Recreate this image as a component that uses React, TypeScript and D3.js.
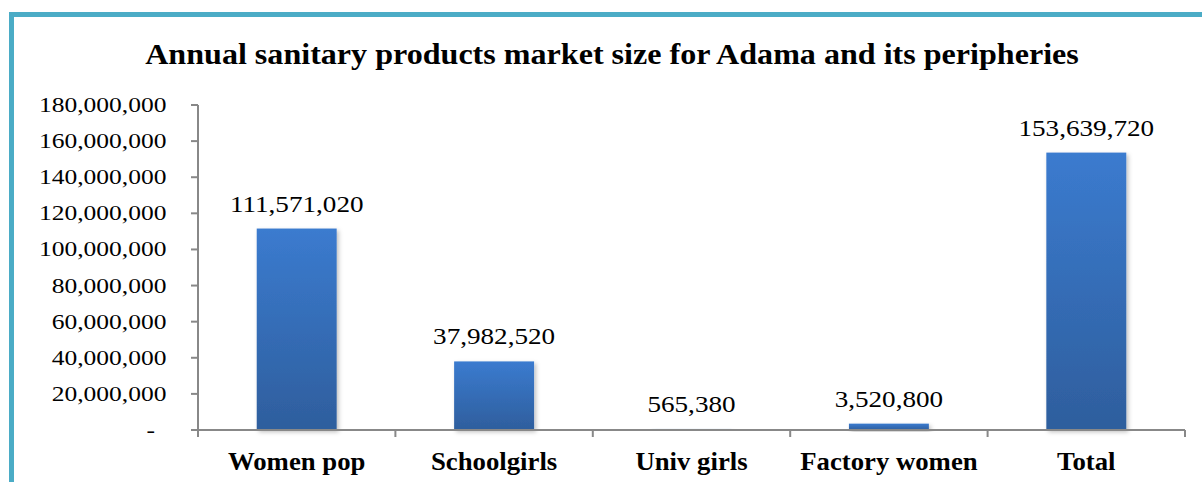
import React from "react";
import * as d3 from "d3";

const categories = ["Women pop", "Schoolgirls", "Univ girls", "Factory women", "Total"];
const values = [111571020, 37982520, 565380, 3520800, 153639720];
const yTicks = [0, 20000000, 40000000, 60000000, 80000000, 100000000, 120000000, 140000000, 160000000, 180000000];
const title = "Annual sanitary products market size for Adama and its peripheries";

const W = 1202;
const H = 482;
const plotLeft = 198;
const plotRight = 1185;
const plotTop = 105;
const plotBottom = 430;

function SText(props: {
  x: number;
  y: number;
  sx: number;
  size: number;
  anchor: "start" | "middle" | "end";
  bold?: boolean;
  children: React.ReactNode;
}) {
  return (
    <text
      transform={`translate(${props.x},${props.y}) scale(${props.sx},1)`}
      textAnchor={props.anchor}
      fontSize={props.size}
      fontWeight={props.bold ? "bold" : "normal"}
      fill="#000"
    >
      {props.children}
    </text>
  );
}

export default function App() {
  const x = d3
    .scaleBand<string>()
    .domain(categories)
    .range([plotLeft, plotRight])
    .paddingInner(0.595)
    .paddingOuter(0.2975);
  const y = d3.scaleLinear().domain([0, 180000000]).range([plotBottom, plotTop]);
  const fmt = d3.format(",");
  const step = x.step();
  const boundaries = d3.range(categories.length + 1).map((i) => plotLeft + i * step);
  const font = "'Liberation Serif', 'Times New Roman', serif";

  return (
    <svg
      width={W}
      height={H}
      style={{ position: "absolute", left: 0, top: 0, background: "#fff" }}
      fontFamily={font}
    >
      <defs>
        <linearGradient id="barGrad" x1="0" y1="0" x2="0" y2="1">
          <stop offset="0%" stopColor="#3B7BCF" />
          <stop offset="100%" stopColor="#2E5E9D" />
        </linearGradient>
        <filter id="shadow" x="-20%" y="-20%" width="140%" height="140%">
          <feDropShadow dx="2" dy="2" stdDeviation="2" floodColor="#000" floodOpacity="0.25" />
        </filter>
      </defs>
      <rect x={0} y={0} width={W} height={H} fill="#fff" />
      <rect x={11.5} y={14.5} width={W + 20} height={H + 20} fill="none" stroke="#4BACC6" strokeWidth={5} />

      <SText x={612} y={64} sx={1.07} size={30} anchor="middle" bold>
        {title}
      </SText>

      {/* y axis */}
      <line x1={plotLeft} x2={plotLeft} y1={plotTop} y2={plotBottom + 7} stroke="#888" strokeWidth={2} />
      {yTicks.map((t) => (
        <g key={t}>
          <line x1={plotLeft - 7} x2={plotLeft} y1={y(t)} y2={y(t)} stroke="#888" strokeWidth={2} />
          <SText x={t === 0 ? 155 : 166.5} y={y(t) + 7} sx={1.16} size={22} anchor="end">
            {t === 0 ? "-" : fmt(t)}
          </SText>
        </g>
      ))}

      {/* bars */}
      {categories.map((c, i) => (
        <rect
          key={c}
          x={x(c)}
          y={y(values[i])}
          width={x.bandwidth()}
          height={plotBottom - y(values[i])}
          fill="url(#barGrad)"
          filter="url(#shadow)"
        />
      ))}

      {/* x axis */}
      <line x1={plotLeft} x2={plotRight} y1={plotBottom} y2={plotBottom} stroke="#888" strokeWidth={2} />
      {boundaries.map((b, i) => (
        <line key={i} x1={b} x2={b} y1={plotBottom} y2={plotBottom + 7} stroke="#888" strokeWidth={2} />
      ))}

      {/* value labels */}
      {categories.map((c, i) => (
        <SText
          key={c}
          x={(x(c) as number) + x.bandwidth() / 2}
          y={y(values[i]) - 17}
          sx={1.18}
          size={23}
          anchor="middle"
        >
          {fmt(values[i])}
        </SText>
      ))}

      {/* category labels */}
      {categories.map((c) => (
        <SText
          key={c}
          x={(x(c) as number) + x.bandwidth() / 2}
          y={469.5}
          sx={1.07}
          size={25}
          anchor="middle"
          bold
        >
          {c}
        </SText>
      ))}
    </svg>
  );
}
